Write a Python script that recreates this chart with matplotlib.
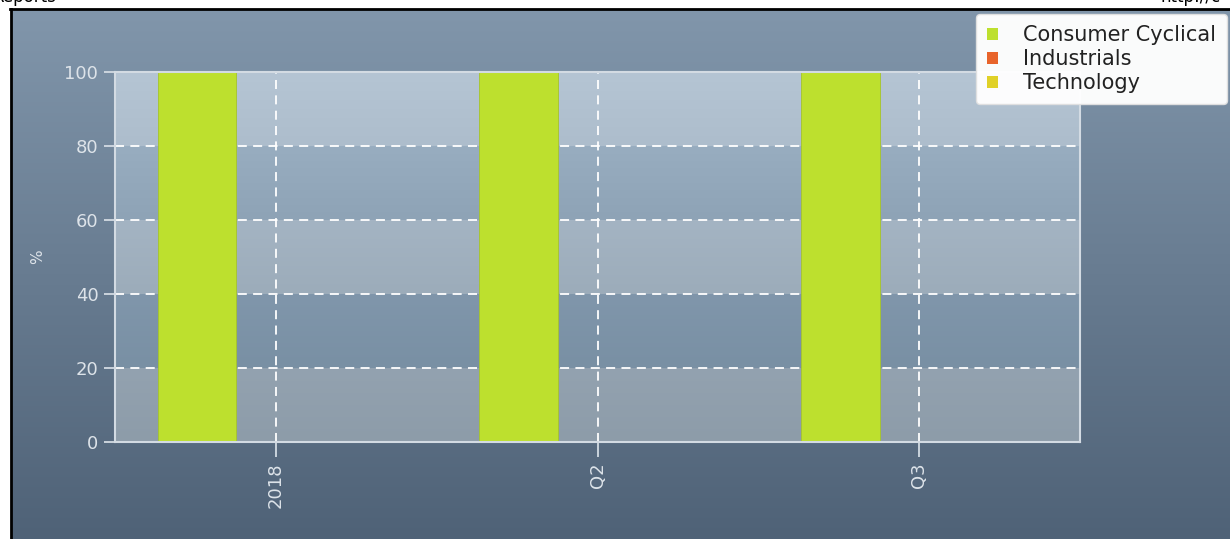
import numpy as np
import matplotlib.pyplot as plt
from matplotlib.colors import LinearSegmentedColormap
from matplotlib.patches import Patch

categories = ["2018", "Q2", "Q3"]
series_names = ["Consumer Cyclical", "Industrials", "Technology"]
series_values = [
    [100, 100, 100],
    [0, 0, 0],
    [0, 0, 0],
]
series_colors = ["#bde02e", "#e8642b", "#e0d128"]
yticks = [0, 20, 40, 60, 80, 100]

W, H = 1230, 539
fig = plt.figure(figsize=(W / 100, H / 100), dpi=100)
fig.patch.set_facecolor("white")

# outer gradient background
bg = fig.add_axes([12 / W, 0, 1 - 12 / W, (H - 10) / H], zorder=0)
cmap = LinearSegmentedColormap.from_list("bg", ["#8196ab", "#4f6277"])
bg.imshow(np.linspace(0, 1, 256).reshape(-1, 1), aspect="auto", cmap=cmap,
          extent=[0, 1, 0, 1])
bg.set_axis_off()

# black frame lines and cut-off header text
fig.add_artist(plt.Line2D([11 / W, 11 / W], [0, (H - 8.5) / H], color="black", lw=2))
fig.add_artist(plt.Line2D([10 / W, 1], [(H - 8.5) / H, (H - 8.5) / H], color="black", lw=2))
fig.text(-8 / W, (H - 6) / H, "Reports", fontsize=12, color="black", va="bottom", ha="left")
fig.text(1160 / W, (H - 6) / H, "http://c", fontsize=12, color="black", va="bottom", ha="left")

ax = fig.add_axes([115 / W, (H - 442) / H, (1080 - 115) / W, (442 - 72) / H], zorder=2)
ax.patch.set_alpha(0)

# banded plot area
bands = [
    ("#93a2b0", "#8d9ca9"),
    ("#8096ab", "#7990a4"),
    ("#a4b4c3", "#9cacba"),
    ("#98adc0", "#8ea3b6"),
    ("#b5c5d4", "#adbdcc"),
]
for i, (top, bot) in enumerate(bands):
    cm = LinearSegmentedColormap.from_list("b%d" % i, [bot, top])
    ax.imshow(np.linspace(0, 1, 64).reshape(-1, 1), aspect="auto", cmap=cm,
              origin="lower", extent=[-0.5, 2.5, yticks[i], yticks[i + 1]], zorder=0)

x = np.arange(len(categories))
w = 0.245
for i, (name, vals, col) in enumerate(zip(series_names, series_values, series_colors)):
    ax.bar(x + (i - 1) * w, vals, width=w, color=col, edgecolor="#a6c42a",
           linewidth=0.6, label=name, zorder=3)

ax.set_xlim(-0.5, 2.5)
ax.set_ylim(0, 100)
ax.set_yticks(yticks)
ax.set_xticks(x)
ax.set_xticklabels(categories, rotation=90)

ax.grid(True, color="white", linestyle=(0, (5, 3.5)), linewidth=1.3, zorder=1)
ax.set_axisbelow(False)
for gl in ax.get_xgridlines() + ax.get_ygridlines():
    gl.set_zorder(1)

for s in ax.spines.values():
    s.set_color("#d3dbe3")
    s.set_linewidth(1.5)
    s.set_zorder(4)

ax.tick_params(axis="y", length=8, width=1.3, color="#d3dbe3", labelcolor="#dde3e9",
               labelsize=13, pad=4)
ax.tick_params(axis="x", length=11, width=1.3, color="#d3dbe3", labelcolor="#dde3e9",
               labelsize=13, pad=4)
ax.set_ylabel("%", color="#dde3e9", fontsize=11)
ax.yaxis.set_label_coords(-70 / (1080 - 115), 0.5)

handles = [Patch(facecolor=c, edgecolor="none", label=n)
           for n, c in zip(series_names, series_colors)]
leg = fig.legend(handles=handles, loc="upper left", bbox_to_anchor=(976 / W, (H - 14) / H),
                 frameon=True, fontsize=15, handlelength=0.5, handleheight=0.5,
                 handletextpad=1.2, labelspacing=0.18, borderpad=0.55,
                 borderaxespad=0, fancybox=True)
leg.get_frame().set_facecolor("white")
leg.get_frame().set_alpha(0.97)
leg.get_frame().set_edgecolor("#e0e0e0")
for t in leg.get_texts():
    t.set_color("#222222")
leg.set_zorder(10)

fig.savefig("out.png", dpi=100)
